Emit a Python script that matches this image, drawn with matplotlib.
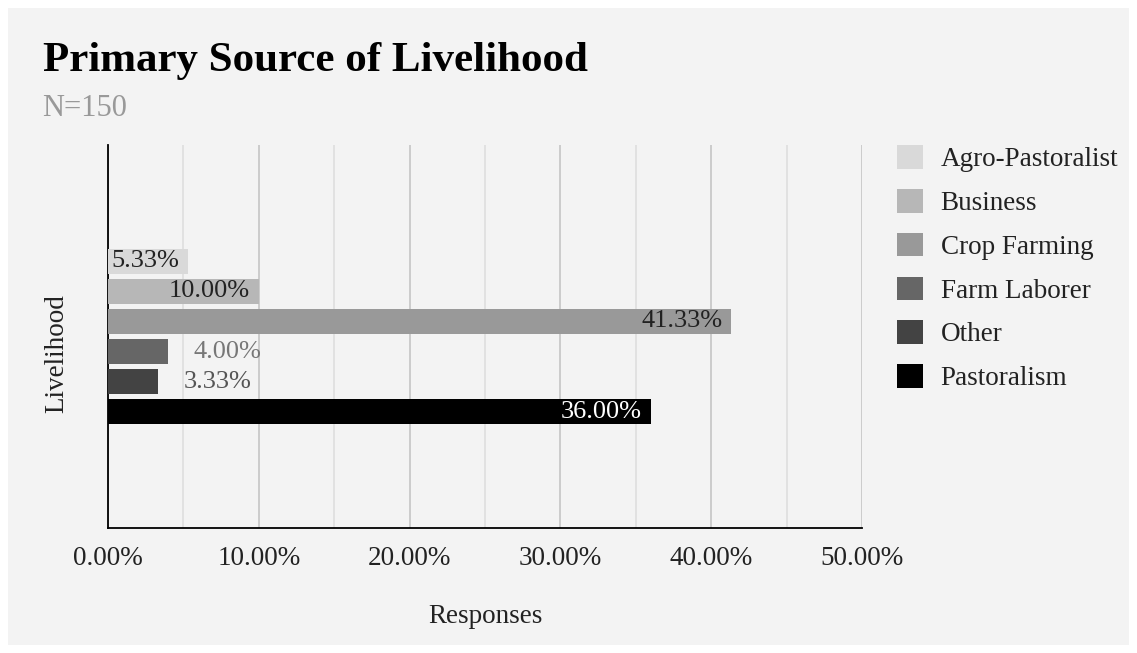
import numpy as np
import matplotlib.pyplot as plt
from matplotlib.patches import Rectangle, Patch
from matplotlib.ticker import MultipleLocator, PercentFormatter

plt.rcParams['font.family'] = ['Liberation Serif', 'DejaVu Serif']

# data
categories = ['Agro-Pastoralist', 'Business', 'Crop Farming', 'Farm Laborer', 'Other', 'Pastoralism']
shares = [5.33, 10.00, 41.33, 4.00, 3.33, 36.00]
colors = ['#d9d9d9', '#b7b7b7', '#999999', '#666666', '#434343', '#000000']
label_colors = ['#222222', '#222222', '#222222', '#777777', '#555555', '#ffffff']
label_inside = [True, True, True, False, False, True]

W, H = 1137, 653
fig = plt.figure(figsize=(W / 100, H / 100), dpi=100, facecolor='white')

# light gray card behind everything
fig.patches.append(Rectangle((8 / W, 8 / H), (1129 - 8) / W, (645 - 8) / H,
                             transform=fig.transFigure, facecolor='#f3f3f3',
                             edgecolor='none', zorder=-10))

ax = fig.add_axes([108 / W, 1 - 528 / H, (862 - 108) / W, (528 - 145) / H])
ax.set_facecolor('#f3f3f3')

# one category, six series side by side
offsets = np.arange(len(categories)) - (len(categories) - 1) / 2
ax.barh(offsets, shares, height=0.83, color=colors, zorder=3)

for y, v, c, inside in zip(offsets, shares, label_colors, label_inside):
    txt = f'{v:.2f}%'
    if inside:
        ax.text(v - 0.6, y, txt, ha='right', va='center', color=c, fontsize=19, zorder=4)
    else:
        ax.text(v + 1.7, y, txt, ha='left', va='center', color=c, fontsize=19, zorder=4)

ax.set_ylim(6.38, -6.38)
ax.set_xlim(0, 50)
ax.xaxis.set_major_locator(MultipleLocator(10))
ax.xaxis.set_minor_locator(MultipleLocator(5))
ax.xaxis.set_major_formatter(PercentFormatter(decimals=2))
ax.grid(axis='x', which='major', color='#c8c8c8', linewidth=1.3, zorder=0)
ax.grid(axis='x', which='minor', color='#e0e0e0', linewidth=1.3, zorder=0)
ax.set_yticks([])
ax.tick_params(axis='x', which='both', length=0, pad=13, labelsize=19.5, labelcolor='#222222')
for s in ['top', 'right']:
    ax.spines[s].set_visible(False)
ax.spines['left'].set_color('black')
ax.spines['bottom'].set_color('black')
ax.spines['left'].set_linewidth(1.3)
ax.spines['bottom'].set_linewidth(1.3)

ax.set_xlabel('Responses', fontsize=19.5, color='#222222', labelpad=24)
ax.set_ylabel('Livelihood', fontsize=19.5, color='#222222')
ax.yaxis.set_label_coords(-0.052, 0.455)

fig.text(43 / W, 1 - 61 / H, 'Primary Source of Livelihood', fontsize=31,
         fontweight='bold', va='center', ha='left', color='black')
fig.text(42 / W, 1 - 109 / H, 'N=150', fontsize=22, va='center', ha='left', color='#999999')

handles = [Patch(facecolor=c, edgecolor='none') for c in colors]
fig.legend(handles, categories, loc='upper left', bbox_to_anchor=(873 / W, 1 - 121 / H),
           frameon=False, fontsize=19.5, handlelength=0.95, handleheight=0.95,
           handletextpad=0.65, labelspacing=0.62, labelcolor='#222222')

fig.savefig('out.png', dpi=100, facecolor='white')
